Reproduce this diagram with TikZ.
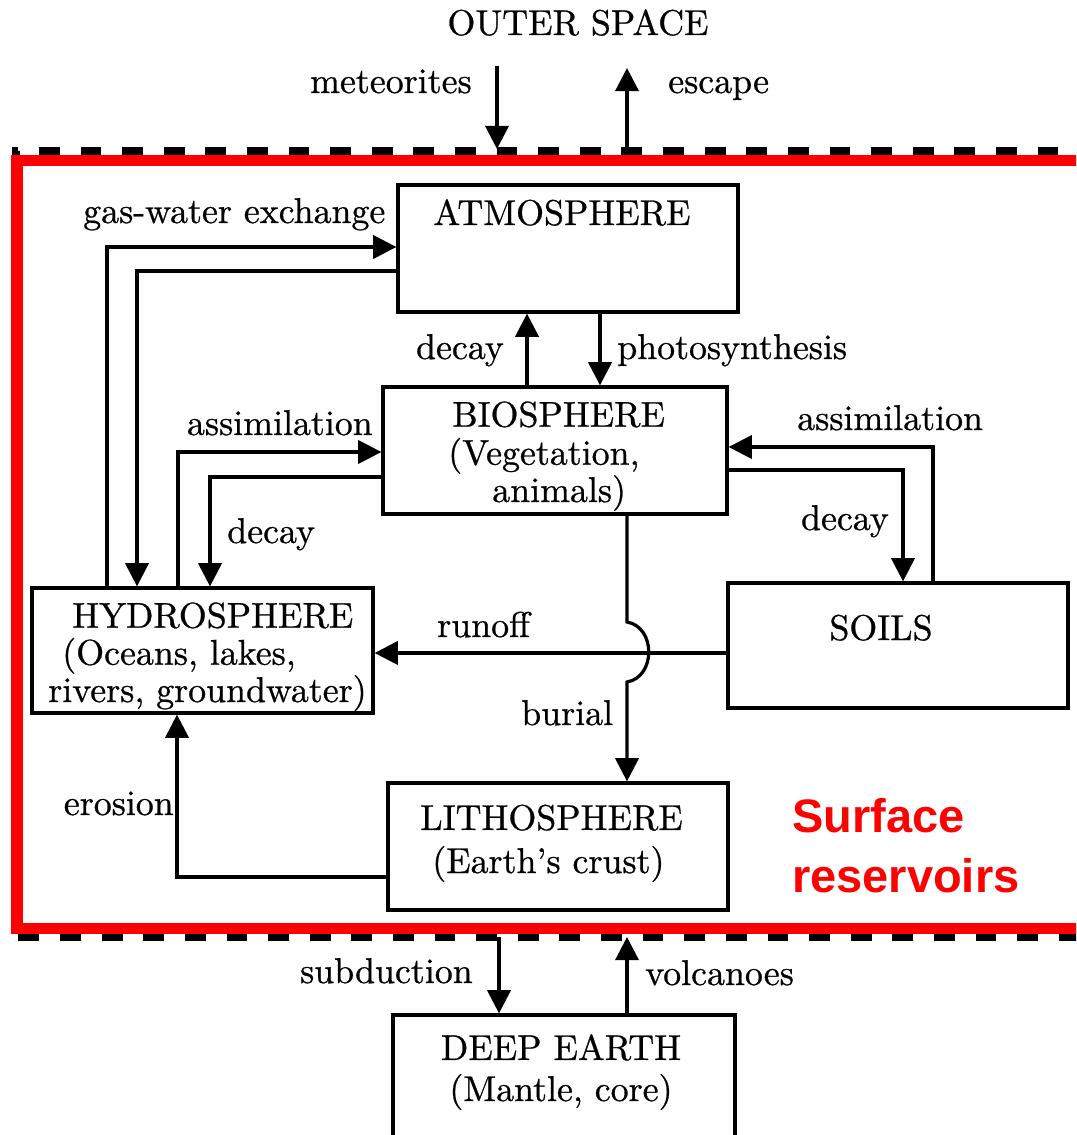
\documentclass[tikz,border=0pt]{standalone}
\usepackage{fontspec}
\newfontfamily\redsans{Liberation Sans}
\newfontfamily\diag{lmroman10-regular.otf}[FakeBold=0.7,Ligatures=TeX]
\usetikzlibrary{arrows.meta}
\begin{document}
\begin{tikzpicture}[x=0.025cm,y=-0.025cm,
  box/.style={draw, line width=0.08cm, inner sep=0pt, minimum width=8.5cm, minimum height=3.175cm},
  arr/.style={line width=0.08cm, -{Triangle[length=0.58cm,width=0.58cm]}},
  txt/.style={inner sep=0pt, font=\diag\fontsize{25.5}{22.8}\selectfont},
  bound/.style={line width=0.18cm, dash pattern=on 0.52cm off 0.52cm},
  redbox/.style={draw=red, line width=0.275cm},
  redtxt/.style={inner sep=0pt, text=red, align=left, font=\redsans\bfseries\fontsize{33.4}{42}\selectfont, anchor=base west}
]
\clip (0,0) rectangle (1076,1135);
\fill[white] (0,0) rectangle (1076,1135);

% boundaries
\draw[bound] (1100,151) -- (16,151) -- (16,937) -- (1100,937);
\draw[redbox] (1110,161) -- (17,161) -- (17,928) -- (1110,928);

% boxes
\node[box] (atm) at (568,248.5) {};
\node[box, minimum width=8.6cm] (bio) at (555,450.5) {};
\node[box, minimum height=3.125cm] (soil) at (898,645.5) {};
\node[box, minimum width=8.525cm, minimum height=3.125cm] (hyd) at (202.5,650.5) {};
\node[box] (lit) at (558,846.5) {};
\node[box, minimum width=8.55cm, minimum height=3.375cm] (deep) at (564,1082.5) {};

% box texts (multi-line: base anchor = last line)
\node[txt, anchor=base] (tOuter) at (578,35) {OUTER SPACE};
\node[txt, anchor=base] (tAtm) at (562,225) {ATMOSPHERE};
\node[txt, anchor=base west, align=left] (tBio) at (448,502)
  {\hspace*{0.1cm}BIOSPHERE\\[0.15cm](Vegetation,\\\hspace*{1.1cm}animals)};
\node[txt, anchor=base] (tSoil) at (881,640) {SOILS};
\node[txt, anchor=base west, align=left] (tHyd) at (48,702)
  {\hspace*{0.6cm}HYDROSPHERE\\[0.125cm]\hspace*{0.35cm}(Oceans, lakes,\\rivers, groundwater)};
\node[txt, anchor=base west, align=left] (tLit) at (432,873)
  {\hspace*{-0.3cm}LITHOSPHERE\\[0.275cm](Earth's crust)};
\node[txt, anchor=base, align=center] (tDeep) at (561,1101)
  {DEEP EARTH\\[0.225cm](Mantle, core)};

% flow labels
\node[txt, anchor=base east] (lMet) at (472,93) {meteorites};
\node[txt, anchor=base west] (lEsc) at (668,93) {escape};
\node[txt, anchor=base west] (lGas) at (83,223) {gas-water exchange};
\node[txt, anchor=base east] (lDecA) at (504,359) {decay};
\node[txt, anchor=base west] (lPho) at (617,359) {photosynthesis};
\node[txt, anchor=base east] (lAssL) at (373,435) {assimilation};
\node[txt, anchor=base west] (lAssR) at (797,430) {assimilation};
\node[txt, anchor=base west] (lDecL) at (227,543) {decay};
\node[txt, anchor=base east] (lDecR) at (889,530) {decay};
\node[txt, anchor=base west] (lRun) at (437,637) {runoff};
\node[txt, anchor=base west] (lBur) at (521,725) {burial};
\node[txt, anchor=base east] (lEro) at (174,815) {erosion};
\node[txt, anchor=base east] (lSub) at (473,983) {subduction};
\node[txt, anchor=base west] (lVol) at (645,985) {volcanoes};

\node[redtxt] (rs) at (792,892) {Surface\\reservoirs};

% helper coordinates
\coordinate (metTop) at (497,66);
\coordinate (metBot) at (497,149);
\coordinate (escBot) at (627,151);
\coordinate (escTop) at (627,68);
\coordinate (gA) at (107,247);
\coordinate (gB) at (137,271);
\coordinate (aA) at (178,452);
\coordinate (dA) at (210,477);
\coordinate (aR) at (933,447);
\coordinate (dR) at (903,470);
\coordinate (du) at (527,0);
\coordinate (ph) at (600,0);
\coordinate (ro) at (0,653);
\coordinate (bu) at (627,0);
\coordinate (er) at (177,877);
\coordinate (sd) at (499,937);
\coordinate (vo) at (627,937);

% connectors
\draw[arr] (metTop) -- (metBot);
\draw[arr] (escBot) -- (escTop);
\draw[arr] (hyd.north -| gA) |- (atm.west |- gA);
\draw[arr] (atm.west |- gB) -| (hyd.north -| gB);
\draw[arr] (hyd.north -| aA) |- (bio.west |- aA);
\draw[arr] (bio.west |- dA) -| (hyd.north -| dA);
\draw[arr] (soil.north -| aR) |- (bio.east |- aR);
\draw[arr] (bio.east |- dR) -| (soil.north -| dR);
\draw[arr] (bio.north -| du) -- (atm.south -| du);
\draw[arr] (atm.south -| ph) -- (bio.north -| ph);
\draw[arr] (soil.west |- ro) -- (hyd.east |- ro);
\draw[arr] (bio.south -| bu) -- (627,622) .. controls (656,627) and (656,677) .. (627,682) -- (lit.north -| bu);
\draw[arr] (lit.west |- er) -| (hyd.south -| er);
\draw[arr] (sd) -- (deep.north -| sd);
\draw[arr] (deep.north -| vo) -- (vo);
\end{tikzpicture}
\end{document}
